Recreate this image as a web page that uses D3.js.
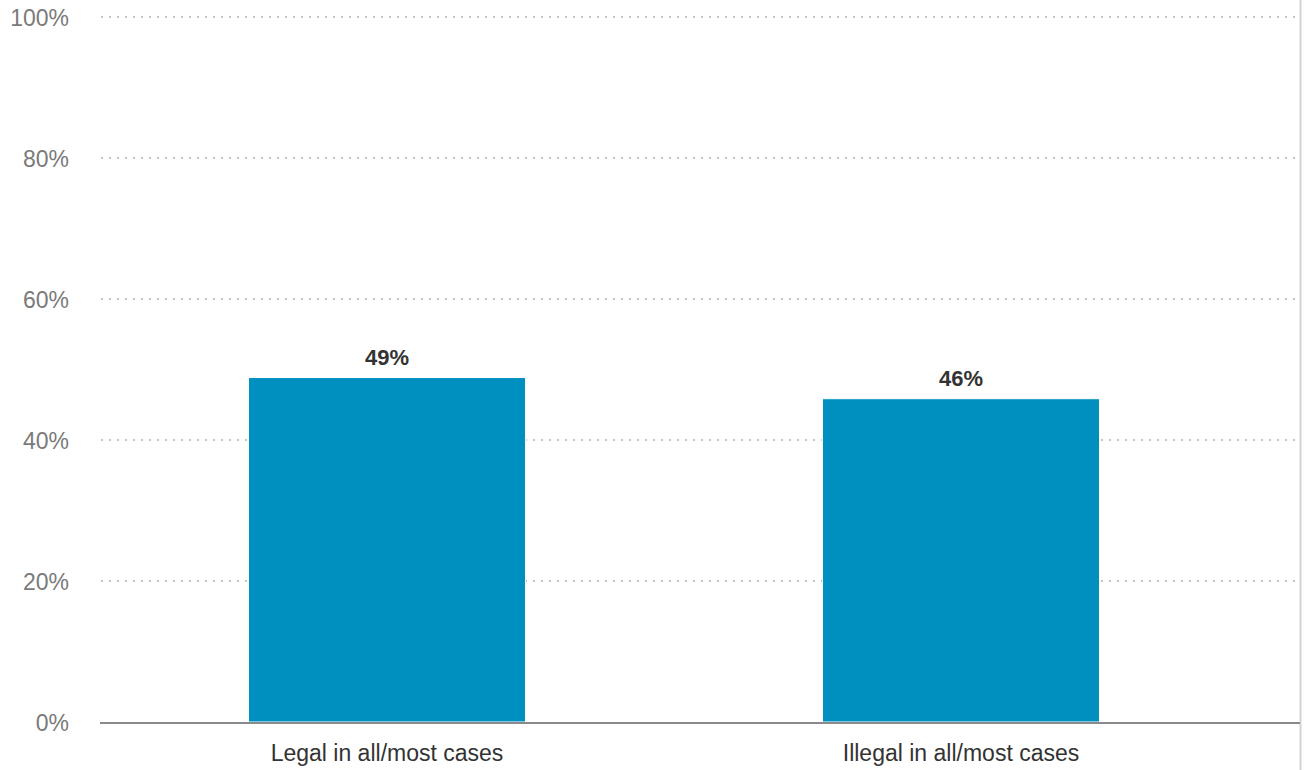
<!DOCTYPE html>
<html><head><meta charset="utf-8">
<script src="https://cdn.jsdelivr.net/npm/d3@7"></script>
<style>body{margin:0;background:#fff;}svg{display:block;font-family:"Liberation Sans","Roboto",sans-serif;}</style>
</head><body>
<script>
const categories = ["Legal in all/most cases", "Illegal in all/most cases"];
const values = [49, 46];
const yTicks = [0, 20, 40, 60, 80, 100];
const tickLabels = ["0%", "20%", "40%", "60%", "80%", "100%"];

const W = 1305, H = 770;
const svg = d3.select("body").append("svg").attr("width", W).attr("height", H);

const y = d3.scaleLinear().domain([0, 100]).range([722, 17]);
const x = d3.scaleBand().domain(categories).range([100, 1248]).paddingInner(0.5174).paddingOuter(0.2587);

// right border
svg.append("line").attr("x1", 1300.5).attr("x2", 1300.5).attr("y1", 0).attr("y2", H)
  .attr("stroke", "#d4d4d4").attr("stroke-width", 2);

// gridlines
const grid = svg.append("g");
yTicks.filter(t => t > 0).forEach(t => {
  grid.append("line").attr("x1", 101).attr("x2", 1300).attr("y1", y(t)).attr("y2", y(t))
    .attr("stroke", "#c4c4c4").attr("stroke-width", 2).attr("stroke-dasharray", "2,6");
});

// y tick labels
const yAxis = d3.axisLeft(y).tickValues(yTicks).tickFormat((d, i) => tickLabels[i]).tickSize(0).tickPadding(0);
const ya = svg.append("g").attr("transform", "translate(69,0)").call(yAxis);
ya.select(".domain").remove();
ya.selectAll("text").attr("fill", "#7a7a7a").style("font-size", "23px").style("font-family", "'Liberation Sans','Roboto',sans-serif").attr("dy", "0.35em");

// bars
svg.selectAll("rect.bar").data(values).enter().append("rect").attr("class", "bar")
  .attr("x", (d, i) => x(categories[i])).attr("width", x.bandwidth())
  .attr("y", d => y(d) + 1).attr("height", d => y(0) - y(d) - 1)
  .attr("fill", "#0090c0").attr("stroke", "#ffffff").attr("stroke-width", 1);

// value labels
svg.selectAll("text.val").data(values).enter().append("text").attr("class", "val")
  .attr("x", (d, i) => x(categories[i]) + x.bandwidth() / 2).attr("y", d => y(d) - 12)
  .attr("text-anchor", "middle").attr("fill", "#333").style("font-weight", "bold").style("font-size", "22px")
  .style("font-family", "'Liberation Sans','Roboto',sans-serif")
  .text(d => d + "%");

// baseline
svg.append("line").attr("x1", 100).attr("x2", 1300).attr("y1", y(0) + 1).attr("y2", y(0) + 1)
  .attr("stroke", "#8a8a8a").attr("stroke-width", 2);

// x axis labels
const xAxis = d3.axisBottom(x).tickSize(0).tickPadding(0);
const xa = svg.append("g").attr("transform", "translate(0,749)").call(xAxis);
xa.select(".domain").remove();
xa.selectAll("text").attr("fill", "#333").style("font-size", "23px").style("font-family", "'Liberation Sans','Roboto',sans-serif").attr("dy", "0.5em");
</script>
</body></html>
